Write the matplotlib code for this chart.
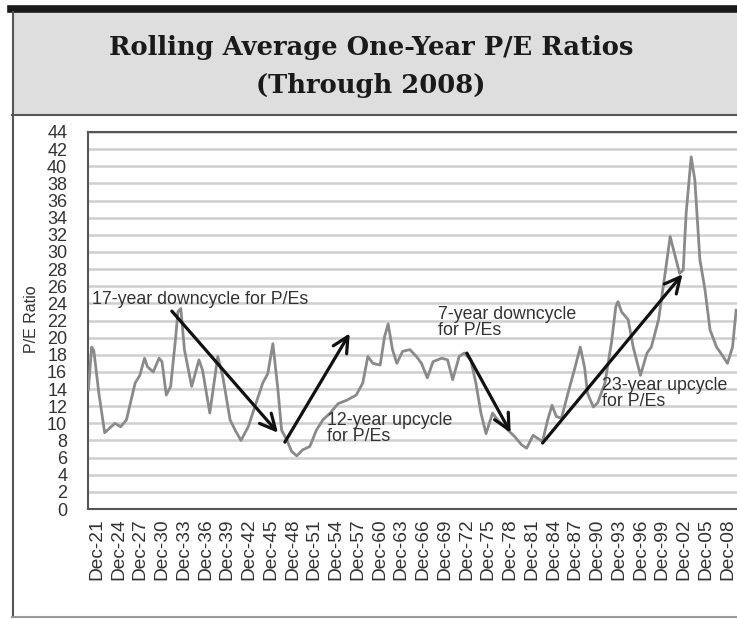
import matplotlib
matplotlib.use("Agg")
import matplotlib.pyplot as plt
from matplotlib.patches import Rectangle
from matplotlib.lines import Line2D

# ---- data ----
years = [1920.75, 1921.2, 1921.5, 1922.2, 1923.0, 1924.4, 1925.2, 1926.0, 1927.2, 1927.85,
         1928.5, 1928.9, 1929.7, 1930.5, 1930.9, 1931.5, 1932.1, 1932.8, 1933.1, 1933.5,
         1934.0, 1935.0, 1936.0, 1936.5, 1937.5, 1938.6, 1939.3, 1940.3, 1941.0, 1941.8,
         1942.8, 1943.7, 1944.8, 1945.5, 1946.2, 1946.9, 1947.4, 1948.1, 1948.8, 1949.5,
         1950.3, 1951.3, 1952.2, 1953.1, 1954.1, 1955.2, 1956.4, 1957.7, 1958.6, 1959.3,
         1960.0, 1961.0, 1961.6, 1962.1, 1962.7, 1963.3, 1964.1, 1965.1, 1966.0, 1966.7,
         1967.5, 1968.3, 1969.5, 1970.3, 1971.0, 1971.9, 1972.6, 1973.5, 1974.2, 1974.9,
         1975.6, 1976.5, 1977.2, 1978.4, 1979.6, 1980.5, 1981.2, 1982.1, 1982.8, 1983.4,
         1984.1, 1984.7, 1985.3, 1986.0, 1986.9, 1987.9, 1988.6, 1989.2, 1989.6, 1990.4,
         1991.0, 1992.0, 1992.9, 1993.5, 1993.8, 1994.3, 1995.2, 1995.9, 1996.9, 1997.8,
         1998.4, 1999.4, 2000.3, 2001.0, 2001.6, 2002.3, 2002.8, 2003.2, 2003.9, 2004.4,
         2005.1, 2005.8, 2006.5, 2007.4, 2008.3, 2008.9, 2009.6, 2010.1]
pe_ratio = [13.9, 18.9, 18.5, 13.5, 8.9, 10.0, 9.6, 10.4, 14.7, 15.6,
            17.6, 16.6, 16.0, 17.6, 17.2, 13.3, 14.3, 20.1, 23.0, 23.4,
            18.6, 14.3, 17.4, 16.2, 11.2, 17.8, 15.4, 10.4, 9.2, 8.0,
            9.6, 11.9, 14.7, 15.8, 19.3, 13.9, 9.2, 8.1, 6.7, 6.2,
            6.9, 7.3, 9.2, 10.4, 11.2, 12.3, 12.7, 13.3, 14.7, 17.8,
            17.0, 16.8, 20.1, 21.6, 18.6, 17.0, 18.4, 18.6, 17.8, 17.0,
            15.3, 17.2, 17.6, 17.4, 15.1, 17.8, 18.2, 17.4, 14.7, 11.2,
            8.8, 11.2, 10.4, 9.4, 8.4, 7.5, 7.1, 8.6, 8.2, 7.9,
            10.4, 12.1, 10.8, 10.6, 13.5, 16.6, 18.9, 16.5, 13.5, 11.9,
            12.4, 14.7, 19.4, 23.6, 24.2, 23.0, 22.1, 18.9, 15.6, 18.2,
            18.9, 22.1, 27.5, 31.8, 29.8, 27.5, 27.9, 34.5, 41.1, 38.4,
            29.1, 25.6, 20.9, 18.9, 17.8, 17.0, 18.9, 23.2]

tick_years = [1921.92 + 3 * i for i in range(30)]
tick_labels = ["Dec-21", "Dec-24", "Dec-27", "Dec-30", "Dec-33", "Dec-36", "Dec-39", "Dec-42",
               "Dec-45", "Dec-48", "Dec-51", "Dec-54", "Dec-57", "Dec-60", "Dec-63", "Dec-66",
               "Dec-69", "Dec-72", "Dec-75", "Dec-78", "Dec-81", "Dec-84", "Dec-87", "Dec-90",
               "Dec-93", "Dec-96", "Dec-99", "Dec-02", "Dec-05", "Dec-08"]
y_ticks = list(range(0, 45, 2))

# annotations: text, position
notes = [("17-year downcycle for P/Es", 1921.2, 24.5),
         ("12-year upcycle\nfor P/Es", 1953.6, 9.4),
         ("7-year downcycle\nfor P/Es", 1968.95, 21.8),
         ("23-year upcycle\nfor P/Es", 1991.57, 13.5)]
# arrows: (start year, start value, end year, end value)
arrows = [(1932.26, 23.1, 1946.9, 8.9),
          (1947.85, 7.8, 1956.8, 20.5),
          (1972.95, 18.2, 1979.0, 8.9),
          (1983.4, 7.7, 2002.7, 27.4)]

W, H = 737, 619
fig = plt.figure(figsize=(W / 100, H / 100), dpi=100)
fig.patch.set_facecolor("white")

def fx(px):
    return px / W

def fy(py):
    return 1 - py / H

# title box
fig.patches.append(Rectangle((fx(12), fy(115)), fx(737 - 12), (115 - 12) / H,
                             transform=fig.transFigure, facecolor="#dedede",
                             edgecolor="none", zorder=0))
fig.lines.append(Line2D([fx(11), 1], [fy(9), fy(9)], transform=fig.transFigure,
                        color="#1a1a1a", lw=5.5))
fig.lines.append(Line2D([fx(12), 1], [fy(115), fy(115)], transform=fig.transFigure,
                        color="#555555", lw=1.5))
fig.lines.append(Line2D([fx(12.5), fx(12.5)], [fy(12), fy(617)], transform=fig.transFigure,
                        color="#555555", lw=1.5))
fig.lines.append(Line2D([fx(12), 1], [fy(617), fy(617)], transform=fig.transFigure,
                        color="#999999", lw=1.5))

fig.text(fx(371), fy(47), "Rolling Average One-Year P/E Ratios", ha="center", va="center",
         family="DejaVu Serif", weight="bold", fontsize=18.5, color="#1a1a1a")
fig.text(fx(371), fy(85), "(Through 2008)", ha="center", va="center",
         family="DejaVu Serif", weight="bold", fontsize=18.5, color="#1a1a1a")

# axes
x_left, x_right = 1920.7, 2012.0
px_per_year = 7.25
ax_left_px = 88
ax_right_px = ax_left_px + (x_right - x_left) * px_per_year
ax = fig.add_axes([fx(ax_left_px), fy(509), fx(ax_right_px - ax_left_px), (509 - 132) / H])
ax.set_xlim(x_left, x_right)
ax.set_ylim(0, 44)

for v in y_ticks:
    ax.axhline(v, color="#cfcfcf", lw=1.8, zorder=1)

ax.plot(years, pe_ratio, color="#8a8a8a", lw=2.0, zorder=3)

ax.set_yticks(y_ticks)
ax.set_yticklabels([str(v) for v in y_ticks], family="Liberation Sans", fontsize=13,
                   color="#333333")
ax.set_xticks(tick_years)
ax.set_xticklabels(tick_labels, rotation=90, family="Liberation Sans", fontsize=13.8,
                   color="#333333")
ax.tick_params(axis="y", length=0, pad=15)
ax.tick_params(axis="x", length=0, pad=7)
for s in ax.spines.values():
    s.set_color("#555555")
    s.set_linewidth(1.5)

ax.set_ylabel("P/E Ratio", family="Liberation Sans", fontsize=11.5, color="#333333")
ax.yaxis.set_label_coords((39 - 88) / (ax_right_px - ax_left_px), (509 - 319) / (509 - 132))

for txt, x, y in notes:
    ax.text(x, y, txt, ha="left", va="center", family="Liberation Sans", fontsize=12.8,
            color="#333333", linespacing=0.95, zorder=5)

for x0, y0, x1, y1 in arrows:
    ax.annotate("", xy=(x1, y1), xytext=(x0, y0),
                arrowprops=dict(arrowstyle="->", color="#111111", lw=2.3,
                                mutation_scale=28, shrinkA=0, shrinkB=0), zorder=6)

fig.savefig("out.png", dpi=100)
